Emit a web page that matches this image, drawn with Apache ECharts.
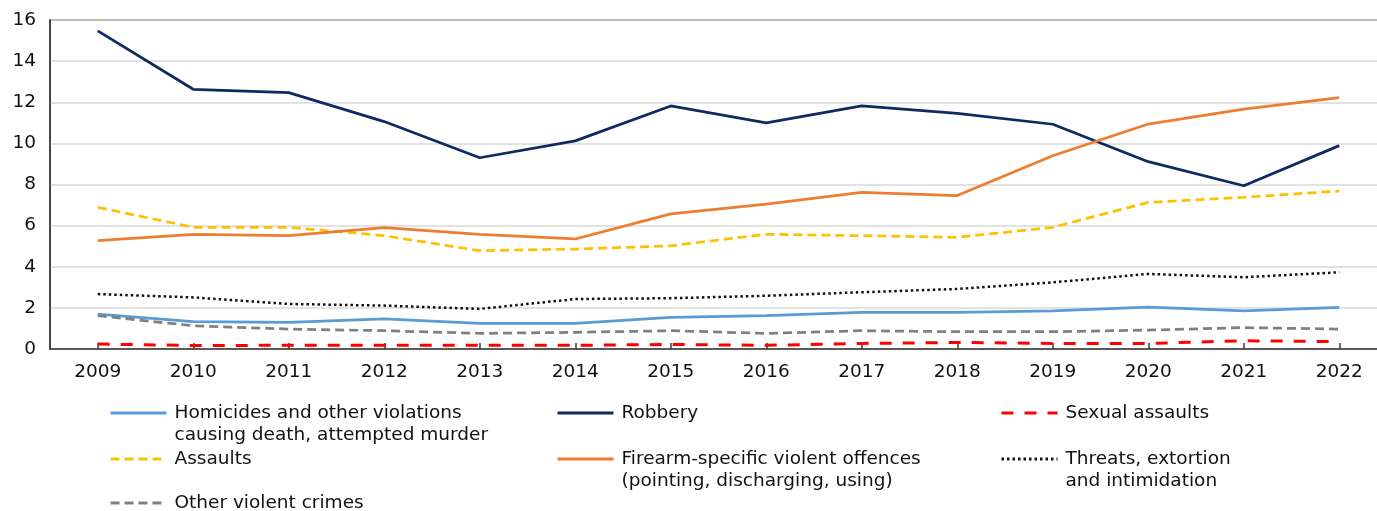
<!DOCTYPE html>
<html>
<head>
<meta charset="utf-8">
<script src="https://cdn.jsdelivr.net/npm/echarts@6/dist/echarts.min.js"></script>
<style>
  html, body { margin: 0; padding: 0; background: #fff; overflow: hidden; }
  #chart { width: 1377px; height: 511px; }
</style>
</head>
<body>
<div id="chart"></div>
<script>
const years = ['2009','2010','2011','2012','2013','2014','2015','2016','2017','2018','2019','2020','2021','2022'];
const yTicks = [0, 2, 4, 6, 8, 10, 12, 14, 16];

const homicides = [1.70, 1.33, 1.30, 1.46, 1.25, 1.25, 1.54, 1.62, 1.78, 1.78, 1.86, 2.04, 1.86, 2.03];
const robbery   = [15.47, 12.63, 12.47, 11.06, 9.30, 10.12, 11.82, 11.00, 11.82, 11.46, 10.93, 9.11, 7.94, 9.89];
const sexual    = [0.24, 0.17, 0.18, 0.18, 0.18, 0.18, 0.22, 0.18, 0.27, 0.32, 0.27, 0.27, 0.40, 0.36];
const assaults  = [6.89, 5.92, 5.92, 5.51, 4.78, 4.86, 5.02, 5.58, 5.51, 5.43, 5.92, 7.13, 7.38, 7.68];
const firearm   = [5.27, 5.58, 5.51, 5.90, 5.58, 5.35, 6.57, 7.05, 7.62, 7.46, 9.40, 10.94, 11.67, 12.22];
const threats   = [2.67, 2.51, 2.19, 2.11, 1.95, 2.43, 2.47, 2.59, 2.76, 2.92, 3.24, 3.65, 3.49, 3.73];
const other     = [1.62, 1.13, 0.97, 0.89, 0.76, 0.81, 0.89, 0.76, 0.89, 0.84, 0.84, 0.92, 1.04, 0.97];

const names = {
  homicides: 'Homicides and other violations\ncausing death, attempted murder',
  robbery: 'Robbery',
  sexual: 'Sexual assaults',
  assaults: 'Assaults',
  firearm: 'Firearm-specific violent offences\n(pointing, discharging, using)',
  threats: 'Threats, extortion\nand intimidation',
  other: 'Other violent crimes'
};

const FONT = 'DejaVu Sans';
const FS = 18.5;
const chart = echarts.init(document.getElementById('chart'), null, { renderer: 'canvas' });

function mkSeries(name, data, color, width, type) {
  return {
    name: name, type: 'line', data: data, symbol: 'none', showSymbol: false,
    lineStyle: { color: color, width: width, type: type, cap: 'butt' },
    itemStyle: { color: color },
    emphasis: { disabled: true }
  };
}

function mkLegend(name, left, rowCenter, twoLine) {
  const lh = 22;
  return {
    data: [name], left: left,
    top: twoLine ? rowCenter - 33 : rowCenter - 11,
    padding: 0, itemWidth: 56, itemHeight: 14, itemGap: 0,
    selectedMode: false,
    itemStyle: { opacity: 0 },
    lineStyle: { width: 3 },
    formatter: twoLine ? function (n) { return ' \n' + n; } : function (n) { return n; },
    textStyle: {
      fontFamily: FONT, fontSize: FS, color: '#111', lineHeight: lh,
      padding: [0, 0, 0, 3]
    }
  };
}

const c1 = 109, c2 = 556, c3 = 1000;
const r1 = 413, r2 = 459, r3 = 503;

chart.setOption({
  animation: false,
  backgroundColor: '#fff',
  grid: { left: 50, width: 1337, top: 20, height: 329, show: true, borderColor: '#3a3a3a', borderWidth: 1.5, containLabel: false, outerBoundsMode: 'none' },
  xAxis: {
    type: 'category', data: years, boundaryGap: true,
    axisLine: { show: true, lineStyle: { color: '#3a3a3a', width: 1.5 } },
    axisTick: { show: true, inside: true, alignWithLabel: true, length: 6, lineStyle: { color: '#3a3a3a', width: 1.5 } },
    axisLabel: { fontFamily: FONT, fontSize: FS, color: '#111', margin: 14 },
    splitLine: { show: false }
  },
  yAxis: {
    type: 'value', min: yTicks[0], max: yTicks[yTicks.length - 1], interval: 2,
    axisLine: { show: true, lineStyle: { color: '#3a3a3a', width: 1.5 } },
    axisTick: { show: false },
    axisLabel: { fontFamily: FONT, fontSize: FS, color: '#111', margin: 14 },
    splitLine: { show: true, lineStyle: { color: '#d9d9d9', width: 1.5 } }
  },
  legend: [
    mkLegend(names.homicides, c1, r1, true),
    mkLegend(names.robbery, c2, r1, false),
    mkLegend(names.sexual, c3, r1, false),
    mkLegend(names.assaults, c1, r2, false),
    mkLegend(names.firearm, c2, r2, true),
    mkLegend(names.threats, c3, r2, true),
    mkLegend(names.other, c1, r3, false)
  ],
  series: [
    mkSeries(names.homicides, homicides, '#5B9BD5', 2.75, 'solid'),
    mkSeries(names.robbery, robbery, '#0F2A63', 2.75, 'solid'),
    mkSeries(names.sexual, sexual, '#FF0000', 3, [12, 11]),
    mkSeries(names.assaults, assaults, '#FFC000', 2.75, [9, 5]),
    mkSeries(names.firearm, firearm, '#ED7D31', 2.75, 'solid'),
    mkSeries(names.threats, threats, '#111111', 2.5, [2.5, 3]),
    mkSeries(names.other, other, '#808080', 2.75, [9, 5])
  ]
});
</script>
</body>
</html>
